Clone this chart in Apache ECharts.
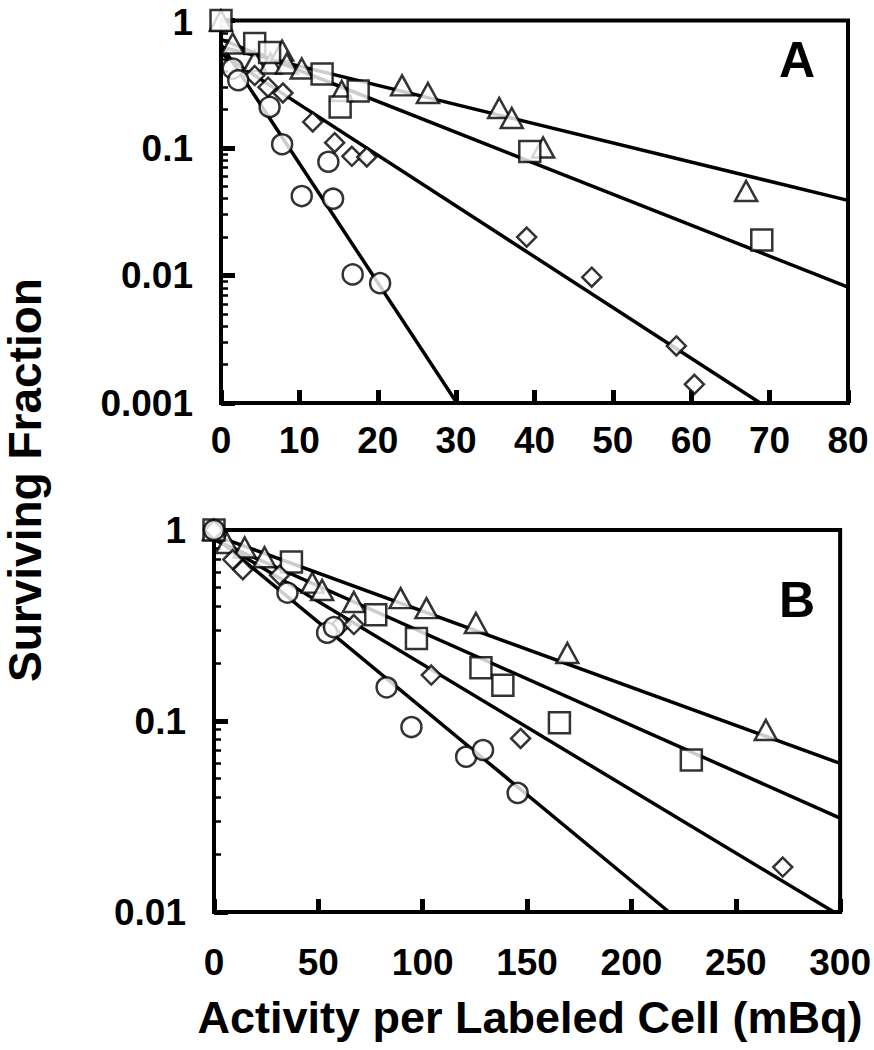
<!DOCTYPE html>
<html>
<head>
<meta charset="utf-8">
<script src="https://cdn.jsdelivr.net/npm/echarts@6/dist/echarts.min.js"></script>
<style>
html,body{margin:0;padding:0;background:#fff;}
#chart{width:874px;height:1050px;}
</style>
</head>
<body>
<div id="chart"></div>
<script>
// ---------- Panel A data (x: mBq, y: surviving fraction) ----------
const triA = [[0,1.0],[1.5,0.66],[4.3,0.48],[6.3,0.46],[7.8,0.58],[8.4,0.46],[10.3,0.42],[15.4,0.28],[23.1,0.31],[26.4,0.27],[35.5,0.206],[37.1,0.172],[41.1,0.101],[67,0.046]];
const sqA  = [[0,1.0],[4.3,0.66],[6.2,0.56],[12.9,0.38],[15.2,0.21],[17.5,0.28],[39.4,0.094],[69,0.019]];
const diaA = [[4.3,0.37],[6.0,0.30],[7.9,0.27],[11.7,0.16],[14.5,0.11],[16.7,0.086],[18.6,0.085],[39,0.020],[47.3,0.0097],[58.1,0.0028],[60.4,0.0014]];
const cirA = [[1.5,0.42],[2.2,0.34],[6.2,0.21],[7.8,0.107],[10.3,0.042],[13.7,0.078],[14.3,0.040],[16.8,0.0102],[20.3,0.0087]];
// fitted lines, panel A (end points)
const fitTriA = [[0,0.62],[80,0.0388]];
const fitSqA  = [[0,0.71],[80,0.0081]];
const fitDiaA = [[0,0.55],[68.8,0.001]];
const fitCirA = [[0,0.65],[30.1,0.001]];

// ---------- Panel B data ----------
const triB = [[0,1.0],[6.2,0.855],[14.7,0.81],[24.2,0.72],[47.1,0.53],[51.8,0.485],[67,0.42],[89.4,0.44],[101.8,0.39],[125.5,0.326],[169.3,0.227],[264.4,0.0897]];
const sqB  = [[0,1.0],[37.1,0.68],[77.5,0.36],[97,0.27],[127.9,0.19],[138.4,0.154],[165.5,0.098],[228.7,0.0625]];
const diaB = [[0,1.0],[9,0.70],[13.8,0.62],[31.4,0.58],[60.9,0.32],[67,0.32],[104.1,0.174],[146.9,0.081],[272.5,0.0172]];
const cirB = [[0,1.0],[35.2,0.47],[54.2,0.29],[57.5,0.31],[82.7,0.15],[94.6,0.093],[120.8,0.065],[128.9,0.0705],[145.5,0.042]];
// fitted lines, panel B (end points)
const fitTriB = [[0,0.94],[300,0.060]];
const fitSqB  = [[0,0.89],[300,0.031]];
const fitDiaB = [[0,0.90],[297,0.01]];
const fitCirB = [[0,0.93],[218,0.01]];

// ---------- axis ticks / labels ----------
const xTicksA = [0,10,20,30,40,50,60,70,80];
const xTicksB = [0,50,100,150,200,250,300];
const yLabelsA = {0.001:'0.001',0.01:'0.01',0.1:'0.1',1:'{top|1}'};
const yLabelsB = {0.01:'0.01',0.1:'0.1',1:'1'};
const minorA = [0.002,0.003,0.004,0.005,0.006,0.007,0.008,0.009,0.02,0.03,0.04,0.05,0.06,0.07,0.08,0.09,0.2,0.3,0.4,0.5,0.6,0.7,0.8,0.9];
const minorB = [0.02,0.03,0.04,0.05,0.06,0.07,0.08,0.09,0.2,0.3,0.4,0.5,0.6,0.7,0.8,0.9];

const FONT = "'Liberation Sans', Arial, Helvetica, sans-serif";
const chart = echarts.init(document.getElementById('chart'), null, {renderer:'svg'});

function fmtY(map){ return function(v){ for (const k in map){ if (Math.abs(Math.log10(v)-Math.log10(+k))<1e-6) return map[k]; } return ''; }; }

function xAxis(gi, ticks, margin){
  return {
    type:'value', gridIndex:gi, min:ticks[0], max:ticks[ticks.length-1], interval:ticks[1]-ticks[0],
    axisLine:{show:true, lineStyle:{color:'#000', width:4}},
    axisTick:{show:true, inside:true, length:13, lineStyle:{color:'#000', width:5}},
    axisLabel:{show:true, margin:margin, color:'#000', fontFamily:FONT, fontWeight:'bold', fontSize:37, lineHeight:30, showMinLabel:true, showMaxLabel:true},
    splitLine:{show:false}, z:4
  };
}
function yAxis(gi, min, labels){
  return {
    type:'log', logBase:10, gridIndex:gi, min:min, max:1,
    axisLine:{show:true, lineStyle:{color:'#000', width:4}},
    axisTick:{show:true, inside:true, length:14, lineStyle:{color:'#000', width:5}},
    axisLabel:{show:true, margin:28, color:'#000', fontFamily:FONT, fontWeight:'bold', fontSize:37, lineHeight:28, formatter:fmtY(labels),
      rich:{top:{fontFamily:FONT, fontWeight:'bold', fontSize:37, lineHeight:28, padding:[4,0,0,0]}}},
    splitLine:{show:false}, z:4
  };
}
function yMinor(gi, min, vals){
  return {
    type:'log', logBase:10, gridIndex:gi, min:min, max:1, position:'left',
    axisLine:{show:false},
    axisTick:{show:true, inside:true, length:7, customValues:vals, lineStyle:{color:'#000', width:2.5}},
    axisLabel:{show:false},
    splitLine:{show:false}, z:4
  };
}

const markerStyle = {color:'#fff', borderColor:'#000', borderWidth:2.5};
function scat(name, data, xi, yi, symbol, size){
  return {name, type:'scatter', xAxisIndex:xi, yAxisIndex:yi, data, symbol, symbolSize:size, itemStyle:markerStyle, z:5, silent:true};
}
function fit(name, data, xi, yi){
  return {name, type:'line', xAxisIndex:xi, yAxisIndex:yi, data, symbol:'none', lineStyle:{color:'#000', width:3.5}, z:3, silent:true, animation:false};
}

const option = {
  animation:false,
  backgroundColor:'#fff',
  grid:[
    {left:221, top:16, width:627, height:387, show:true, borderColor:'#000', borderWidth:4, backgroundColor:'transparent'},
    {left:214, top:530, width:631, height:382, show:true, borderColor:'#000', borderWidth:4, backgroundColor:'transparent'}
  ],
  xAxis:[ xAxis(0, xTicksA, 22), xAxis(1, xTicksB, 35) ],
  yAxis:[ yAxis(0, 0.001, yLabelsA), yAxis(1, 0.01, yLabelsB), yMinor(0, 0.001, minorA), yMinor(1, 0.01, minorB) ],
  series:[
    fit('fitTriA', fitTriA, 0, 0), fit('fitSqA', fitSqA, 0, 0), fit('fitDiaA', fitDiaA, 0, 0), fit('fitCirA', fitCirA, 0, 0),
    scat('triA', triA, 0, 0, 'triangle', [22,20]),
    scat('sqA', sqA, 0, 0, 'rect', 21),
    scat('diaA', diaA, 0, 0, 'diamond', 19),
    scat('cirA', cirA, 0, 0, 'circle', 20),
    fit('fitTriB', fitTriB, 1, 1), fit('fitSqB', fitSqB, 1, 1), fit('fitDiaB', fitDiaB, 1, 1), fit('fitCirB', fitCirB, 1, 1),
    scat('triB', triB, 1, 1, 'triangle', [22,20]),
    scat('sqB', sqB, 1, 1, 'rect', 21),
    scat('diaB', diaB, 1, 1, 'diamond', 19),
    scat('cirB', cirB, 1, 1, 'circle', 20)
  ],
  graphic:[
    {type:'text', x:25, y:480, rotation:Math.PI/2, style:{text:'Surviving Fraction', font:"bold 46px "+FONT, fill:'#000', align:'center', verticalAlign:'middle'}},
    {type:'text', x:530, y:1017, style:{text:'Activity per Labeled Cell (mBq)', font:"bold 45px "+FONT, fill:'#000', align:'center', verticalAlign:'middle'}},
    {type:'text', x:797, y:60, style:{text:'A', font:"bold 50px "+FONT, fill:'#000', align:'center', verticalAlign:'middle'}},
    {type:'text', x:797, y:600, style:{text:'B', font:"bold 50px "+FONT, fill:'#000', align:'center', verticalAlign:'middle'}}
  ]
};
chart.setOption(option);
</script>
</body>
</html>
